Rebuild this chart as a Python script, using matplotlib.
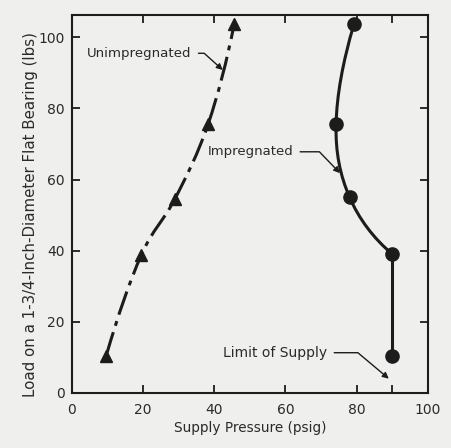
import numpy as np
import matplotlib
matplotlib.use("Agg")
import matplotlib.pyplot as plt
from matplotlib.path import Path
from matplotlib.patches import PathPatch

# values
unimp_pressure = [9.7, 19.5, 29, 38.3, 45.6]
unimp_load = [10.5, 38.7, 54.6, 75.6, 103.7]

imp_pressure = [90, 90, 78, 74.2, 79.2]
imp_load = [10.5, 39, 55, 75.6, 103.6]

supply_limit = 90
x_ticks = [0, 20, 40, 60, 80, 100]
y_ticks = [0, 20, 40, 60, 80, 100]

ink = "#1c1c1c"
text_ink = "#2a2a2a"
paper = "#efefed"


def smooth_path(xs, ys):
    """Catmull-Rom curve through the points (parabolic ends), as a bezier Path."""
    pts = np.column_stack([xs, ys]).astype(float)
    n = len(pts)
    m = np.zeros_like(pts)
    m[1:-1] = (pts[2:] - pts[:-2]) / 2.0
    m[0] = 2 * (pts[1] - pts[0]) - m[1]
    m[-1] = 2 * (pts[-1] - pts[-2]) - m[-2]
    verts = [pts[0]]
    codes = [Path.MOVETO]
    for i in range(n - 1):
        verts += [pts[i] + m[i] / 3.0, pts[i + 1] - m[i + 1] / 3.0, pts[i + 1]]
        codes += [Path.CURVE4] * 3
    return Path(verts, codes)


fig = plt.figure(figsize=(4.51, 4.48), dpi=100, facecolor=paper)
ax = fig.add_axes([0.159, 0.123, 0.79, 0.843], facecolor=paper)

# unimpregnated: dash-dot curve with triangles
ax.add_patch(PathPatch(smooth_path(unimp_pressure, unimp_load), fill=False,
                       ec=ink, lw=2.2, ls=(0, (8, 2.2, 1.6, 2.2))))
ax.plot(unimp_pressure, unimp_load, ls="none", marker="^", ms=8, color=ink)

# impregnated: vertical at the supply limit, then a smooth curve
ax.plot(imp_pressure[:2], imp_load[:2], color=ink, lw=2.2)
ax.add_patch(PathPatch(smooth_path(imp_pressure[1:], imp_load[1:]), fill=False,
                       ec=ink, lw=2.2))
ax.plot(imp_pressure, imp_load, ls="none", marker="o", ms=9.5, color=ink)

ax.set_xlim(0, 100)
ax.set_ylim(0, 106.2)

ax.set_xticks(x_ticks)
ax.set_yticks(y_ticks)
ax.set_xticks([supply_limit], minor=True)
ax.tick_params(which="both", direction="in", length=6, width=1.3, color=ink,
               top=True, right=True, labelsize=10, labelcolor=text_ink)
ax.tick_params(axis="x", pad=7)
ax.tick_params(axis="y", pad=5)
for s in ax.spines.values():
    s.set_linewidth(1.5)
    s.set_color(ink)

ax.set_xlabel("Supply Pressure (psig)", fontsize=9.8, color=text_ink, labelpad=3)
ax.set_ylabel("Load on a 1-3/4-Inch-Diameter Flat Bearing (lbs)", fontsize=10.8,
              color=text_ink)
ax.yaxis.set_label_coords(-0.095, 0.473)

arrow = dict(arrowstyle="-|>", color=ink, lw=1.0, mutation_scale=9,
             relpos=(1, 0.5), shrinkA=3, shrinkB=0)

ax.annotate("Unimpregnated", xy=(42.4, 90.8), xytext=(4.3, 95.5),
            va="center", ha="left", fontsize=9.6, color=text_ink,
            arrowprops=dict(arrow, connectionstyle="angle,angleA=0,angleB=-42,rad=0"))
ax.annotate("Impregnated", xy=(75.3, 61.8), xytext=(38.1, 67.8),
            va="center", ha="left", fontsize=9.5, color=text_ink,
            arrowprops=dict(arrow, connectionstyle="angle,angleA=0,angleB=-46,rad=0"))
ax.annotate("Limit of Supply", xy=(supply_limit - 1, 4.0), xytext=(42.5, 11.3),
            va="center", ha="left", fontsize=10, color=text_ink,
            arrowprops=dict(arrow, connectionstyle="angle,angleA=0,angleB=-40,rad=0"))

fig.savefig("out.png", dpi=100, facecolor=paper)
